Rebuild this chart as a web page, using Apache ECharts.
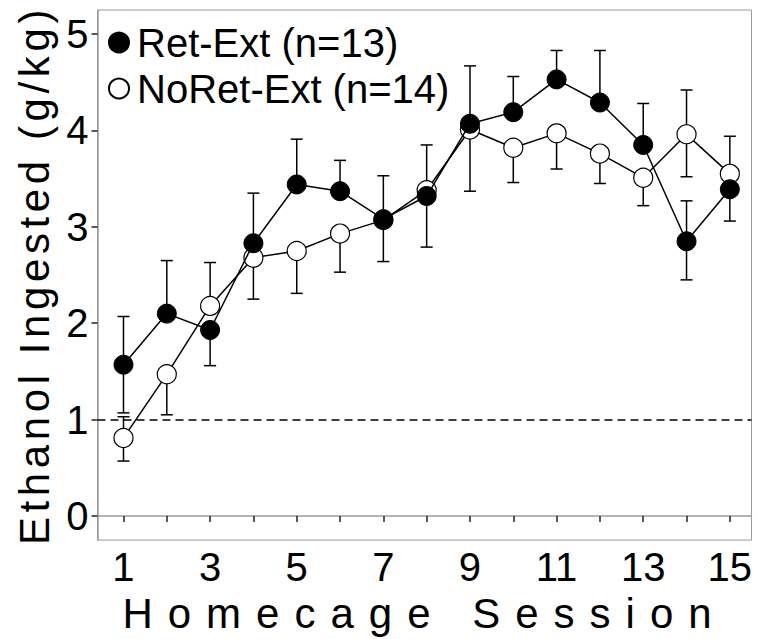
<!DOCTYPE html>
<html><head><meta charset="utf-8">
<script src="https://cdn.jsdelivr.net/npm/echarts@6/dist/echarts.min.js"></script>
<style>html,body{margin:0;padding:0;background:#fff}#c{width:758px;height:639px}</style>
</head><body><div id="c"></div>
<script>
const sessions = [1,2,3,4,5,6,7,8,9,10,11,12,13,14,15];
const xTickValues = [1,2,3,4,5,6,7,8,9,10,11,12,13,14,15];
const xLabelValues = [1,3,5,7,9,11,13,15];
const yTickValues = [0,1,2,3,4,5];
const retName = 'Ret-Ext (n=13)';
const noRetName = 'NoRet-Ext (n=14)';
const retMean   = [1.57,2.10,1.93,2.83,3.44,3.37,3.08,3.32,4.07,4.19,4.53,4.29,3.85,2.85,3.39];
const retUpper  = [2.07,2.65,null,3.35,3.91,3.69,3.53,3.85,4.67,4.56,4.83,4.83,4.28,3.27,null];
const retLower  = [1.07,null,1.56,null,null,null,null,null,null,null,null,null,null,2.45,3.06];
const noRetMean  = [0.81,1.47,2.18,2.68,2.75,2.93,3.07,3.38,4.01,3.82,3.97,3.76,3.51,3.96,3.55];
const noRetUpper = [1.03,null,2.63,null,null,null,null,null,null,null,null,null,null,4.42,3.94];
const noRetLower = [0.57,1.05,null,2.25,2.31,2.53,2.64,2.79,3.37,3.46,3.60,3.45,3.22,3.52,null];
const referenceLevel = 1;
const xTitle = 'Homecage Session';
const yTitle = 'Ethanol Ingested (g/kg)';

const FONT = '"Liberation Sans", Arial, sans-serif';

function segs(mean, ends){
  const out = [];
  sessions.forEach((s,i)=>{ if(ends[i]!=null) out.push([s, mean[i], ends[i]]); });
  return out;
}
const errData = [].concat(segs(retMean,retUpper), segs(retMean,retLower), segs(noRetMean,noRetUpper), segs(noRetMean,noRetLower));

function renderErr(params, api){
  const x = api.value(0), m = api.value(1), e = api.value(2);
  const p0 = api.coord([x,m]), p1 = api.coord([x,e]);
  const hw = 6;
  return {type:'group', children:[
    {type:'line', shape:{x1:p0[0],y1:p0[1],x2:p1[0],y2:p1[1]}, style:{stroke:'#000', lineWidth:1.5}},
    {type:'line', shape:{x1:p1[0]-hw,y1:p1[1],x2:p1[0]+hw,y2:p1[1]}, style:{stroke:'#000', lineWidth:1.5}}
  ]};
}

const chart = echarts.init(document.getElementById('c'), null, {renderer:'svg'});
const option = {
  animation:false,
  backgroundColor:'#fff',
  grid:{left:97.5, right:6.5, top:10, bottom:96, show:true, borderColor:'#9a9a9a', borderWidth:1, containLabel:false},
  legend:{
    orient:'vertical', left:103, top:16.5, icon:'circle', itemWidth:20, itemHeight:20, itemGap:4,
    textStyle:{fontSize:40, fontFamily:FONT, color:'#000', lineHeight:42, padding:[0,0,0,3]},
    data:[retName, noRetName]
  },
  xAxis:{
    type:'value', min:0.4, max:15.5,
    name:xTitle, nameLocation:'middle', nameGap:46,
    nameTextStyle:{fontSize:42, fontFamily:FONT, color:'#000'},
    axisLine:{show:true, lineStyle:{color:'#9a9a9a', width:1.5}},
    axisTick:{show:true, length:6, lineStyle:{color:'#222', width:1.5}, customValues:xTickValues},
    axisLabel:{fontSize:40, fontFamily:FONT, color:'#000', margin:7, customValues:xLabelValues},
    splitLine:{show:false}
  },
  yAxis:{
    type:'value', min:-0.25, max:5.25,
    name:yTitle, nameLocation:'middle', nameGap:40, nameRotate:90,
    nameTextStyle:{fontSize:42, fontFamily:FONT, color:'#000'},
    axisLine:{show:true, lineStyle:{color:'#9a9a9a', width:1.5}},
    axisTick:{show:true, length:6, lineStyle:{color:'#222', width:1.5}, customValues:yTickValues},
    axisLabel:{fontSize:40, fontFamily:FONT, color:'#000', margin:9, customValues:yTickValues},
    splitLine:{show:false}
  },
  series:[
    {
      type:'custom', renderItem:renderErr, data:errData, encode:{x:0, y:[1,2]}, z:1, silent:true
    },
    {
      name:noRetName, type:'line', data:sessions.map((s,i)=>[s,noRetMean[i]]), z:2,
      symbol:'circle', symbolSize:19, showAllSymbol:true,
      lineStyle:{color:'#000', width:1.5},
      itemStyle:{color:'#fff', borderColor:'#000', borderWidth:1.2},
      markLine:{silent:true, symbol:'none', label:{show:false},
        lineStyle:{color:'#000', type:[8,5], width:1.5},
        data:[{yAxis:referenceLevel}]}
    },
    {
      name:retName, type:'line', data:sessions.map((s,i)=>[s,retMean[i]]), z:3,
      symbol:'circle', symbolSize:19, showAllSymbol:true,
      lineStyle:{color:'#000', width:1.5},
      itemStyle:{color:'#000', borderColor:'#000', borderWidth:1}
    }
  ]
};
chart.setOption(option);
function spaceText(){
  document.querySelectorAll('#c svg text').forEach(t=>{
    if (t.textContent === xTitle) t.setAttribute('letter-spacing','15');
    else if (t.textContent === yTitle) t.setAttribute('letter-spacing','4.6');
  });
}
spaceText();
chart.on('finished', spaceText);
</script></body></html>
